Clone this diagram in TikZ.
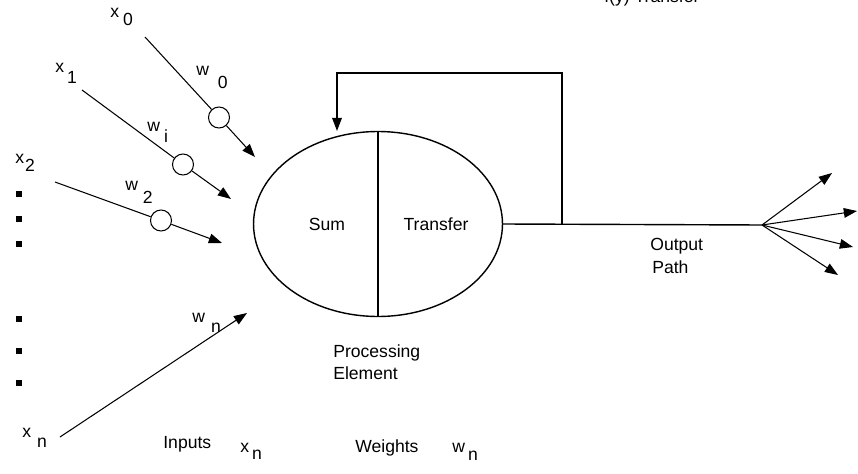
\documentclass[tikz,border=0pt]{standalone}
\usepackage{fontspec}
\setmainfont{Liberation Sans}
\usetikzlibrary{arrows.meta, shapes.geometric}
\newcommand{\idx}[4]{#1\kern#3\raisebox{-#4}{#2}}

\begin{document}
\begin{tikzpicture}[
  x=0.02cm, y=-0.02cm,
  wire/.style={line width=0.6pt},
  arr/.style={-{Triangle[length=7.5pt, width=5.5pt]}, line width=0.6pt},
  wgt/.style={circle, draw, fill=white, line width=0.6pt, minimum size=0.42cm, inner sep=0pt},
  lbl/.style={font=\fontsize{10}{12}\selectfont, anchor=base west, inner sep=0pt},
  dot/.style={fill=black, minimum size=3.5pt, inner sep=0pt}
]
\useasboundingbox (0,0) rectangle (858,473);

\node[lbl] (top) at (604,2.5) {f(y) Transfer};

% processing element
\node[ellipse, draw, line width=0.8pt, minimum width=4.98cm, minimum height=3.7cm, inner sep=0pt] (pe) at (378,224) {};
\draw[line width=0.8pt] (pe.north) -- (pe.south);
\node[lbl, anchor=base] (sum) at (327,230) {Sum};
\node[lbl, anchor=base] (trans) at (436,230) {Transfer};

% inputs
\node[lbl] (lx0) at (110,18) {\idx{x}{0}{2.3pt}{4pt}};
\node[lbl] (lw0) at (196,75) {\idx{w}{0}{5pt}{7.4pt}};
\node[lbl] (lx1) at (55,72) {\idx{x}{1}{1.7pt}{6.8pt}};
\node[lbl] (lwi) at (147,132) {\idx{w}{i}{2.3pt}{6.2pt}};
\node[lbl] (lx2) at (15,163) {\idx{x}{2}{0.6pt}{5.1pt}};
\node[lbl] (lw2) at (125,190) {\idx{w}{2}{2.8pt}{7.4pt}};
\node[lbl] (lwn) at (192,322) {\idx{w}{n}{3.4pt}{5.7pt}};
\node[lbl] (lxn) at (22,437) {\idx{x}{n}{3.4pt}{5.7pt}};

\coordinate (in0) at (145,37);  \coordinate (tip0) at (255,157);
\coordinate (in1) at (82,90);   \coordinate (tip1) at (231,199);
\coordinate (in2) at (55,182);  \coordinate (tip2) at (222,243);
\coordinate (inn) at (60,437);  \coordinate (tipn) at (247,313);

\node[wgt] (c0) at (219,117.5) {};
\node[wgt] (c1) at (183,164.5) {};
\node[wgt] (c2) at (161,220.5) {};

\draw[wire] (in0) -- (c0);
\draw[arr] (c0) -- (tip0);
\draw[wire] (in1) -- (c1);
\draw[arr] (c1) -- (tip1);
\draw[wire] (in2) -- (c2);
\draw[arr] (c2) -- (tip2);
\draw[arr] (inn) -- (tipn);

\foreach \y [count=\i] in {194,219,244,319,351,383}
  \node[dot] (d\i) at (19,\y) {};

% output and feedback
\coordinate (fan) at (762,225);
\coordinate (split) at (562,225);
\coordinate (fbin) at (337,131);
\draw[line width=0.8pt] (pe.east) -- (fan);
\draw[-{Triangle[length=7.5pt, width=5.5pt]}, line width=0.8pt] (split) -- (562,73) -| (fbin);
\foreach \p [count=\i] in {(832,173),(857,211),(853,247),(838,275)}
  \draw[arr] (fan) -- \p coordinate (out\i);

\node[lbl] (outp) at (650,250) {Output};
\node[lbl] (path) at (652,273) {Path};
\node[lbl] (proc) at (333,357) {Processing};
\node[lbl] (elem) at (333,379) {Element};
\node[lbl] (inputs) at (163,448) {Inputs};
\node[lbl] (lxb) at (240,452) {\idx{x}{n}{1.7pt}{4.5pt}};
\node[lbl] (weights) at (355,452) {Weights};
\node[lbl] (lwb) at (452,452) {\idx{w}{n}{1.7pt}{5pt}};
\end{tikzpicture}
\end{document}
